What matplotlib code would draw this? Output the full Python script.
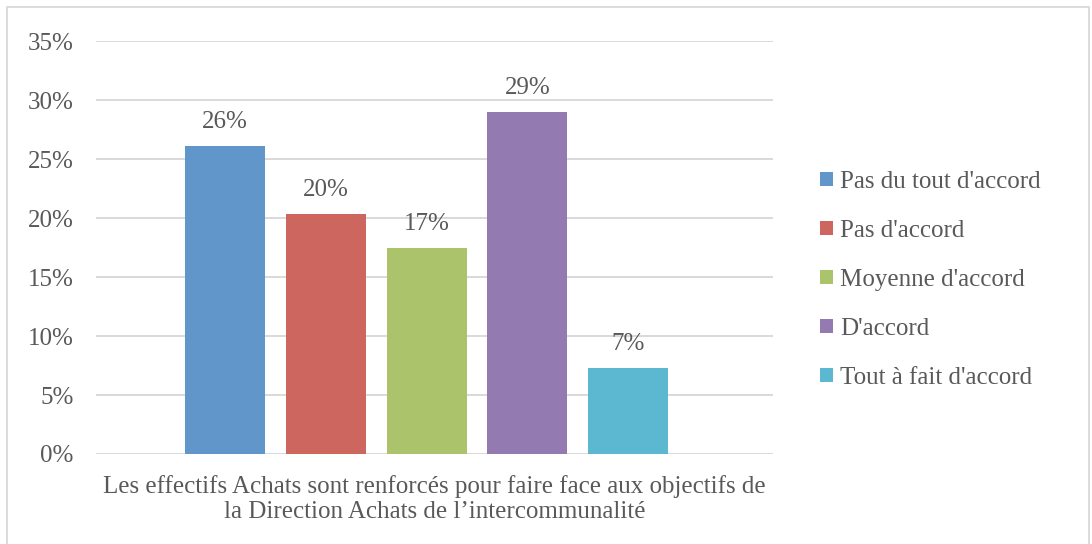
import matplotlib
matplotlib.use("Agg")
import matplotlib.pyplot as plt
from matplotlib.patches import Rectangle
from matplotlib.ticker import FuncFormatter

categories = ["Pas du tout d'accord", "Pas d'accord", "Moyenne d'accord", "D'accord", "Tout à fait d'accord"]
values = [26.13, 20.35, 17.46, 29.02, 7.26]
colors = ["#6096CA", "#CD665F", "#ABC46C", "#937BB1", "#5CB8D1"]
yticks = [0, 5, 10, 15, 20, 25, 30, 35]
xlabel_text = "Les effectifs Achats sont renforcés pour faire face aux objectifs de\nla Direction Achats de l\u2019intercommunalité"

FONT = ["Liberation Serif", "DejaVu Serif"]
TXT = "#595959"
FS = 18
plt.rcParams['font.family'] = FONT

W, H = 1092, 544
fig = plt.figure(figsize=(W / 100, H / 100), dpi=100)
ax = fig.add_axes([96 / W, 1 - 454 / H, (773 - 96) / W, (454 - 41.3) / H])

positions = list(range(len(values)))
for p, v, c, lab in zip(positions, values, colors, categories):
    ax.bar(p, v, width=0.795, color=c, label=lab, zorder=3)
    ax.annotate(f"{v:.0f}%", (p, v), xytext=(0, 13), textcoords="offset points",
                ha="center", va="baseline", fontsize=FS, color=TXT)

ax.set_xlim(-1.283, 5.44)
ax.set_ylim(0, 35)
ax.set_yticks(yticks)
ax.yaxis.set_major_formatter(FuncFormatter(lambda y, _: f"{y:.0f}%"))
ax.tick_params(axis="y", length=0, pad=16, labelsize=FS, labelcolor=TXT)
ax.set_xticks([])
ax.grid(axis="y", color="#D9D9D9", linewidth=1.4, zorder=0)
for s in ax.spines.values():
    s.set_visible(False)

ax.text(0.5, -0.05, xlabel_text, transform=ax.transAxes, ha="center", va="top",
        fontsize=FS, color=TXT, linespacing=1.2)

leg = fig.legend(loc="upper left", bbox_to_anchor=(820 / W, 1 - 171 / H), frameon=False,
                 fontsize=FS, handlelength=0.5, handleheight=0.5, handletextpad=0.3,
                 labelspacing=1.08, borderaxespad=0, borderpad=0)
for t in leg.get_texts():
    t.set_color(TXT)

fig.patches.append(Rectangle((7 / W, -0.02), (1089 - 7) / W, (H - 7) / H + 0.02,
                             transform=fig.transFigure, fill=False, edgecolor="#D9D9D9",
                             linewidth=1.3, zorder=-1))

fig.savefig("out.png", dpi=100, facecolor="white")
